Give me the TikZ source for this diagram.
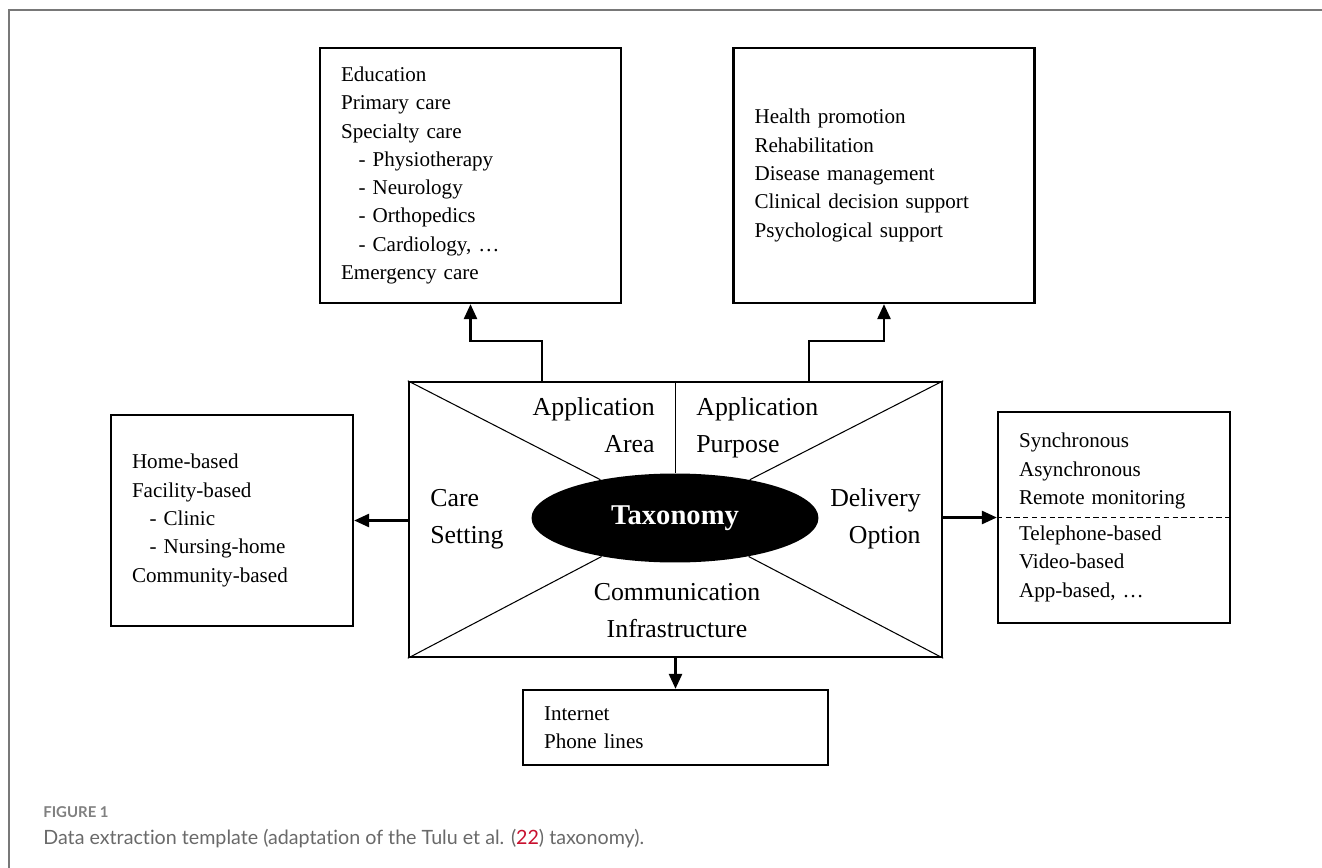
\documentclass[tikz,border=0pt]{standalone}
\usepackage{fontspec}
\setmainfont{Liberation Serif}
\newfontfamily\captionfont[Ligatures=NoCommon]{Lato}
\usetikzlibrary{arrows.meta,calc,shapes.geometric}
\definecolor{capgray}{RGB}{105,105,105}
\definecolor{refred}{RGB}{200,16,46}
\definecolor{framegray}{RGB}{120,120,120}

\begin{document}
\begin{tikzpicture}[x=0.02cm, y=-0.02cm,
    box/.style={draw, line width=1.4pt},
    list node/.style={box, align=left, inner xsep=0.42cm, inner ysep=0pt,
      font=\fontsize{12}{16.1}\selectfont},
    head node/.style={inner sep=0pt, font=\fontsize{14.7}{20.9}\selectfont},
    arr/.style={line width=1.2pt, -{Triangle[length=8.5pt,width=7.5pt]}},
    thin line/.style={line width=0.6pt},
    dash line/.style={line width=0.6pt, dash pattern=on 3pt off 2pt}]

  \useasboundingbox (0,0) rectangle (1322,868);
  \draw[framegray, line width=0.9pt] (9,868) -- (9,10) -- (1322,10);

  % the taxonomy in the middle
  \node[box, minimum width=10.66cm, minimum height=5.5cm] (frame) at (675.5,519.5) {};
  \node[ellipse, fill=black, minimum width=5.74cm, minimum height=1.78cm, inner sep=0pt,
        text=white, font=\fontsize{16.3}{20}\selectfont\bfseries] (tax) at (675,518) {Taxonomy};
  \draw[thin line] (frame.north west) -- (tax);
  \draw[thin line] (frame.north east) -- (tax);
  \draw[thin line] (frame.south west) -- (tax);
  \draw[thin line] (frame.south east) -- (tax);
  \draw[thin line] (frame.north) -- (frame.north |- tax.north);

  \node[head node, align=right, anchor=base east] (area-lbl) at (655,452) {Application\\Area};
  \node[head node, align=left, anchor=base west] (purpose-lbl) at (696,452) {Application\\Purpose};
  \node[head node, align=left, anchor=base west] (care-lbl) at (430,543) {Care\\Setting};
  \node[head node, align=right, anchor=base east] (deliv-lbl) at (921,543) {Delivery\\Option};
  \node[head node, align=center, anchor=base] (infra-lbl) at (677,637) {Communication\\Infrastructure};

  % the five lists
  \node[list node, text width=5.18cm, minimum height=5.1cm] (area) at (470.5,175.5)
    {Education\\Primary care\\Specialty care\\\hspace*{10pt}- Physiotherapy\\
     \hspace*{10pt}- Neurology\\\hspace*{10pt}- Orthopedics\\
     \hspace*{10pt}- Cardiology, …\\Emergency care};
  \node[list node, text width=5.18cm, minimum height=5.1cm] (purpose) at (884,175.5)
    {Health promotion\\Rehabilitation\\Disease management\\
     Clinical decision support\\Psychological support};
  \node[list node, text width=4.0cm, minimum height=4.22cm] (care) at (232,520.5)
    {Home-based\\Facility-based\\\hspace*{10pt}- Clinic\\
     \hspace*{10pt}- Nursing-home\\Community-based};
  \node[list node, text width=3.8cm, minimum height=4.22cm] (deliv) at (1114,517.5)
    {Synchronous\\Asynchronous\\Remote monitoring\\[4.4pt]
     Telephone-based\\Video-based\\App-based, …};
  \draw[dash line] (deliv.west) -- (deliv.east);
  \node[list node, text width=5.26cm, minimum height=1.5cm] (infra) at (675.5,727.5)
    {Internet\\Phone lines};

  \draw[arr] ($(frame.north west)!.25!(frame.north east)$) -- ++(0,-40) -| (area.south);
  \draw[arr] ($(frame.north west)!.75!(frame.north east)$) -- ++(0,-40) -| (purpose.south);
  \draw[arr] (frame.west |- care) -- (care);
  \draw[arr] (frame.east |- deliv) -- (deliv);
  \draw[arr] (frame) -- (infra);

  % caption
  \node[anchor=base west, inner sep=0pt, text=capgray!85,
        font=\captionfont\fontsize{8.5}{10}\selectfont\bfseries] (fig-lbl) at (43,817) {FIGURE 1};
  \node[anchor=base west, inner sep=0pt, text=capgray,
        font=\captionfont\fontsize{11.2}{13}\selectfont] (caption) at (43,844)
    {Data extraction template (adaptation of the Tulu et al. (\textcolor{refred}{22}) taxonomy).};
\end{tikzpicture}
\end{document}
